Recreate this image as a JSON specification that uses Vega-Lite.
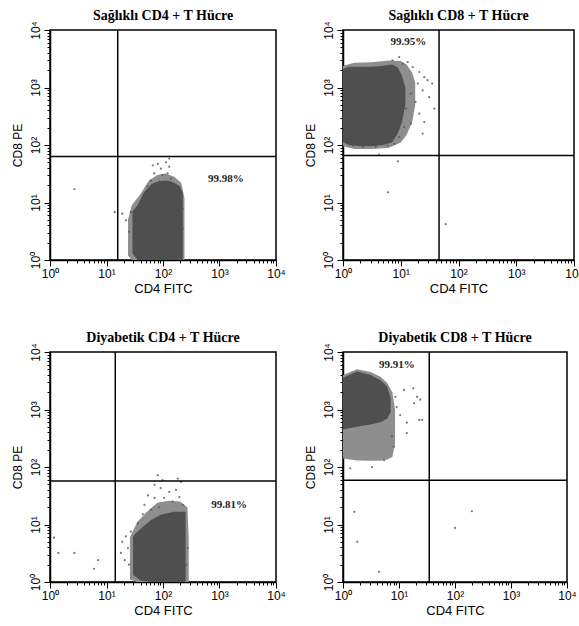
{
  "$schema": "https://vega.github.io/schema/vega-lite/v6.json",
  "background": "white",
  "padding": {"left": 10, "top": 7, "right": 0, "bottom": 0},
  "config": {
    "view": {"stroke": "black", "strokeWidth": 1.5},
    "axis": {"grid": false, "labelFont": "Liberation Sans", "labelFontSize": 12, "labelColor": "black", "titleFont": "Liberation Sans", "titleFontWeight": "normal", "titleColor": "black", "domainColor": "black", "domainWidth": 1.5, "tickColor": "black", "tickWidth": 1, "labelFlush": false, "labelOverlap": false},
    "title": {"font": "Liberation Serif", "fontSize": 14, "fontWeight": "bold", "color": "black", "anchor": "middle", "offset": -2}
  },
  "datasets": {
    "p1": [
      {"kind": "fringe", "x": 24, "ylo": 1.2, "yhi": 5},
      {"kind": "fringe", "x": 28, "ylo": 1, "yhi": 9},
      {"kind": "fringe", "x": 40, "ylo": 1, "yhi": 14},
      {"kind": "fringe", "x": 56, "ylo": 1, "yhi": 24},
      {"kind": "fringe", "x": 79, "ylo": 1, "yhi": 30},
      {"kind": "fringe", "x": 112, "ylo": 1, "yhi": 32},
      {"kind": "fringe", "x": 158, "ylo": 1, "yhi": 28},
      {"kind": "fringe", "x": 209, "ylo": 1, "yhi": 22},
      {"kind": "fringe", "x": 240, "ylo": 1, "yhi": 12},
      {"kind": "dense", "x": 28.8, "ylo": 1.3, "yhi": 7},
      {"kind": "dense", "x": 35.5, "ylo": 1, "yhi": 9},
      {"kind": "dense", "x": 45.7, "ylo": 1, "yhi": 15},
      {"kind": "dense", "x": 63, "ylo": 1, "yhi": 21},
      {"kind": "dense", "x": 79, "ylo": 1, "yhi": 23},
      {"kind": "dense", "x": 100, "ylo": 1, "yhi": 24},
      {"kind": "dense", "x": 126, "ylo": 1, "yhi": 24},
      {"kind": "dense", "x": 158, "ylo": 1, "yhi": 22},
      {"kind": "dense", "x": 200, "ylo": 1, "yhi": 19},
      {"kind": "dense", "x": 224, "ylo": 1, "yhi": 15},
      {"kind": "dot", "x": 66, "y": 44}, {"kind": "dot", "x": 81, "y": 47}, {"kind": "dot", "x": 92, "y": 39},
      {"kind": "dot", "x": 113, "y": 50}, {"kind": "dot", "x": 129, "y": 42}, {"kind": "dot", "x": 70, "y": 32},
      {"kind": "dot", "x": 98, "y": 30}, {"kind": "dot", "x": 121, "y": 32}, {"kind": "dot", "x": 138, "y": 26},
      {"kind": "dot", "x": 61, "y": 24}, {"kind": "dot", "x": 86, "y": 23}, {"kind": "dot", "x": 158, "y": 20},
      {"kind": "dot", "x": 129, "y": 58}, {"kind": "dot", "x": 53, "y": 19}, {"kind": "dot", "x": 194, "y": 13},
      {"kind": "dot", "x": 223, "y": 7.8}, {"kind": "dot", "x": 223, "y": 3.5}, {"kind": "dot", "x": 27, "y": 6.8},
      {"kind": "dot", "x": 22, "y": 4.9}, {"kind": "dot", "x": 19, "y": 6.4}, {"kind": "dot", "x": 25, "y": 3.1},
      {"kind": "dot", "x": 31, "y": 2.1}, {"kind": "dot", "x": 14, "y": 6.8}, {"kind": "dot", "x": 2.7, "y": 17},
      {"kind": "vline", "x": 15.8},
      {"kind": "hline", "y": 63},
      {"kind": "label", "x": 1300, "y": 25.6, "text": "99.98%"}
    ],
    "p2": [
      {"kind": "fringe", "x": 1, "ylo": 95, "yhi": 2400},
      {"kind": "fringe", "x": 1.58, "ylo": 85, "yhi": 2700},
      {"kind": "fringe", "x": 3.16, "ylo": 85, "yhi": 2750},
      {"kind": "fringe", "x": 6.3, "ylo": 90, "yhi": 2950},
      {"kind": "fringe", "x": 10, "ylo": 110, "yhi": 2900},
      {"kind": "fringe", "x": 12.6, "ylo": 150, "yhi": 2500},
      {"kind": "fringe", "x": 15.8, "ylo": 250, "yhi": 1800},
      {"kind": "fringe", "x": 17.8, "ylo": 500, "yhi": 1200},
      {"kind": "dense", "x": 1, "ylo": 112, "yhi": 2090},
      {"kind": "dense", "x": 1.26, "ylo": 100, "yhi": 2290},
      {"kind": "dense", "x": 2, "ylo": 95, "yhi": 2290},
      {"kind": "dense", "x": 3.16, "ylo": 95, "yhi": 2290},
      {"kind": "dense", "x": 5, "ylo": 100, "yhi": 2400},
      {"kind": "dense", "x": 7.1, "ylo": 112, "yhi": 2510},
      {"kind": "dense", "x": 8.9, "ylo": 158, "yhi": 2240},
      {"kind": "dense", "x": 10.5, "ylo": 251, "yhi": 1585},
      {"kind": "dense", "x": 12, "ylo": 500, "yhi": 1000},
      {"kind": "dot", "x": 13.2, "y": 2770}, {"kind": "dot", "x": 16.1, "y": 2270}, {"kind": "dot", "x": 21, "y": 1860},
      {"kind": "dot", "x": 25.5, "y": 1520}, {"kind": "dot", "x": 29, "y": 1340}, {"kind": "dot", "x": 35, "y": 1170},
      {"kind": "dot", "x": 19.7, "y": 1170}, {"kind": "dot", "x": 24, "y": 890}, {"kind": "dot", "x": 31, "y": 680},
      {"kind": "dot", "x": 38, "y": 430}, {"kind": "dot", "x": 15, "y": 780}, {"kind": "dot", "x": 18, "y": 560},
      {"kind": "dot", "x": 12.3, "y": 430}, {"kind": "dot", "x": 21, "y": 350}, {"kind": "dot", "x": 25.5, "y": 250},
      {"kind": "dot", "x": 15, "y": 235}, {"kind": "dot", "x": 11.5, "y": 205}, {"kind": "dot", "x": 24, "y": 158},
      {"kind": "dot", "x": 9.4, "y": 138}, {"kind": "dot", "x": 7.8, "y": 105}, {"kind": "dot", "x": 5.9, "y": 98},
      {"kind": "dot", "x": 3.7, "y": 93}, {"kind": "dot", "x": 2.2, "y": 93}, {"kind": "dot", "x": 1.5, "y": 98},
      {"kind": "dot", "x": 9.4, "y": 3390}, {"kind": "dot", "x": 7.2, "y": 2950}, {"kind": "dot", "x": 10.8, "y": 2570},
      {"kind": "dot", "x": 4.2, "y": 68}, {"kind": "dot", "x": 8.9, "y": 52}, {"kind": "dot", "x": 6, "y": 15},
      {"kind": "dot", "x": 60, "y": 4.2},
      {"kind": "vline", "x": 46},
      {"kind": "hline", "y": 66},
      {"kind": "label", "x": 13.6, "y": 6170, "text": "99.95%"}
    ],
    "p3": [
      {"kind": "fringe", "x": 26, "ylo": 1.1, "yhi": 6},
      {"kind": "fringe", "x": 35, "ylo": 1, "yhi": 11},
      {"kind": "fringe", "x": 50, "ylo": 1, "yhi": 16},
      {"kind": "fringe", "x": 79, "ylo": 1, "yhi": 24},
      {"kind": "fringe", "x": 126, "ylo": 1, "yhi": 26},
      {"kind": "fringe", "x": 200, "ylo": 1, "yhi": 25},
      {"kind": "fringe", "x": 270, "ylo": 1, "yhi": 20},
      {"kind": "fringe", "x": 285, "ylo": 1, "yhi": 6},
      {"kind": "dense", "x": 29.5, "ylo": 1.32, "yhi": 6.3},
      {"kind": "dense", "x": 40.7, "ylo": 1.05, "yhi": 8.5},
      {"kind": "dense", "x": 61.7, "ylo": 1, "yhi": 12},
      {"kind": "dense", "x": 91, "ylo": 1, "yhi": 14.8},
      {"kind": "dense", "x": 158, "ylo": 1, "yhi": 16.6},
      {"kind": "dense", "x": 251, "ylo": 1, "yhi": 16.6},
      {"kind": "dot", "x": 81, "y": 72}, {"kind": "dot", "x": 98, "y": 59}, {"kind": "dot", "x": 182, "y": 63},
      {"kind": "dot", "x": 209, "y": 55}, {"kind": "dot", "x": 71, "y": 49}, {"kind": "dot", "x": 91, "y": 43},
      {"kind": "dot", "x": 129, "y": 37}, {"kind": "dot", "x": 170, "y": 40}, {"kind": "dot", "x": 54, "y": 32},
      {"kind": "dot", "x": 71, "y": 29}, {"kind": "dot", "x": 105, "y": 29}, {"kind": "dot", "x": 148, "y": 25},
      {"kind": "dot", "x": 195, "y": 30}, {"kind": "dot", "x": 47, "y": 22}, {"kind": "dot", "x": 61, "y": 18},
      {"kind": "dot", "x": 86, "y": 20}, {"kind": "dot", "x": 44, "y": 15}, {"kind": "dot", "x": 36, "y": 10.5},
      {"kind": "dot", "x": 27, "y": 7.5}, {"kind": "dot", "x": 22, "y": 6.2}, {"kind": "dot", "x": 19, "y": 5},
      {"kind": "dot", "x": 24, "y": 3.9}, {"kind": "dot", "x": 18, "y": 3.2}, {"kind": "dot", "x": 21, "y": 2.4},
      {"kind": "dot", "x": 25, "y": 2}, {"kind": "dot", "x": 275, "y": 3.9}, {"kind": "dot", "x": 257, "y": 2},
      {"kind": "dot", "x": 224, "y": 22}, {"kind": "dot", "x": 1.4, "y": 3.2}, {"kind": "dot", "x": 2.7, "y": 3.2},
      {"kind": "dot", "x": 6, "y": 1.7}, {"kind": "dot", "x": 7.1, "y": 2.4}, {"kind": "dot", "x": 1.17, "y": 5.9},
      {"kind": "vline", "x": 14.3},
      {"kind": "hline", "y": 57},
      {"kind": "label", "x": 1480, "y": 21.9, "text": "99.81%"}
    ],
    "p4": [
      {"kind": "fringe", "x": 1, "ylo": 140, "yhi": 4000},
      {"kind": "fringe", "x": 1.78, "ylo": 130, "yhi": 5000},
      {"kind": "fringe", "x": 3.09, "ylo": 128, "yhi": 4500},
      {"kind": "fringe", "x": 4.68, "ylo": 128, "yhi": 3700},
      {"kind": "fringe", "x": 6.17, "ylo": 135, "yhi": 2900},
      {"kind": "fringe", "x": 7.6, "ylo": 150, "yhi": 2000},
      {"kind": "fringe", "x": 8.5, "ylo": 250, "yhi": 1000},
      {"kind": "dense", "x": 1, "ylo": 450, "yhi": 3550},
      {"kind": "dense", "x": 1.78, "ylo": 500, "yhi": 4570},
      {"kind": "dense", "x": 3.09, "ylo": 550, "yhi": 3980},
      {"kind": "dense", "x": 4.68, "ylo": 600, "yhi": 3240},
      {"kind": "dense", "x": 6.17, "ylo": 700, "yhi": 2510},
      {"kind": "dense", "x": 7.08, "ylo": 900, "yhi": 1585},
      {"kind": "dot", "x": 12.3, "y": 2190}, {"kind": "dot", "x": 21, "y": 1660}, {"kind": "dot", "x": 9.1, "y": 1100},
      {"kind": "dot", "x": 23, "y": 660}, {"kind": "dot", "x": 13.8, "y": 590}, {"kind": "dot", "x": 18.6, "y": 1290},
      {"kind": "dot", "x": 6.9, "y": 980}, {"kind": "dot", "x": 8.6, "y": 1660}, {"kind": "dot", "x": 10.5, "y": 800},
      {"kind": "dot", "x": 7.5, "y": 340}, {"kind": "dot", "x": 8.1, "y": 225}, {"kind": "dot", "x": 5.4, "y": 132},
      {"kind": "dot", "x": 3.3, "y": 100}, {"kind": "dot", "x": 1.35, "y": 95}, {"kind": "dot", "x": 18, "y": 2340},
      {"kind": "dot", "x": 24, "y": 1480}, {"kind": "dot", "x": 26, "y": 660}, {"kind": "dot", "x": 13.8, "y": 390},
      {"kind": "dot", "x": 1.6, "y": 16.6}, {"kind": "dot", "x": 1.8, "y": 5}, {"kind": "dot", "x": 4.4, "y": 1.5},
      {"kind": "dot", "x": 200, "y": 17}, {"kind": "dot", "x": 100, "y": 8.7},
      {"kind": "vline", "x": 34.7},
      {"kind": "hline", "y": 59},
      {"kind": "label", "x": 9.2, "y": 5900, "text": "99.91%"}
    ]
  },
  "vconcat": [
    {
      "hconcat": [
        {
          "width": 226, "height": 230,
          "title": "Sağlıklı CD4 + T Hücre",
          "data": {"name": "p1"},
          "resolve": {"axis": {"x": "independent", "y": "independent"}},
          "layer": [
            {"transform": [{"filter": "datum.kind === 'fringe'"}], "mark": {"type": "area", "color": "#8e8e8e"},
             "encoding": {
               "x": {"field": "x", "type": "quantitative", "scale": {"type": "log", "domain": [1, 10000], "nice": false},
                 "axis": {"orient": "bottom", "title": "CD4 FITC", "titleFontSize": 13, "values": [1, 10, 100, 1000, 10000],
                   "labelExpr": "datum.value === 1 ? '10⁰' : datum.value === 10 ? '10¹' : datum.value === 100 ? '10²' : datum.value === 1000 ? '10³' : '10⁴'",
                   "tickSize": 6, "labelPadding": 2, "titlePadding": 3}},
               "y": {"field": "yhi", "type": "quantitative", "scale": {"type": "log", "domain": [1, 10000], "nice": false},
                 "axis": {"orient": "left", "title": "CD8 PE", "titleFontSize": 12, "labelAngle": -90, "values": [1, 10, 100, 1000, 10000],
                   "labelExpr": "datum.value === 1 ? '10⁰' : datum.value === 10 ? '10¹' : datum.value === 100 ? '10²' : datum.value === 1000 ? '10³' : '10⁴'",
                   "tickSize": 6, "labelPadding": 2, "titlePadding": 5}},
               "y2": {"field": "ylo"}
             }},
            {"transform": [{"filter": "datum.kind === 'dense'"}], "mark": {"type": "area", "color": "#4f4f4f"},
             "encoding": {
               "x": {"field": "x", "type": "quantitative", "axis": {"orient": "bottom", "title": null, "labels": false, "domain": false, "tickSize": 3, "values": [2,3,4,5,6,7,8,9,20,30,40,50,60,70,80,90,200,300,400,500,600,700,800,900,2000,3000,4000,5000,6000,7000,8000,9000]}},
               "y": {"field": "yhi", "type": "quantitative", "axis": {"orient": "left", "title": null, "labels": false, "domain": false, "tickSize": 3, "values": [2,3,4,5,6,7,8,9,20,30,40,50,60,70,80,90,200,300,400,500,600,700,800,900,2000,3000,4000,5000,6000,7000,8000,9000]}},
               "y2": {"field": "ylo"}
             }},
            {"transform": [{"filter": "datum.kind === 'dot'"}], "mark": {"type": "point", "filled": true, "size": 5, "color": "#555", "opacity": 0.8},
             "encoding": {"x": {"field": "x", "type": "quantitative", "axis": null}, "y": {"field": "y", "type": "quantitative", "axis": null}}},
            {"transform": [{"filter": "datum.kind === 'vline'"}], "mark": {"type": "rule", "color": "black", "strokeWidth": 1.5},
             "encoding": {"x": {"field": "x", "type": "quantitative", "axis": null}}},
            {"transform": [{"filter": "datum.kind === 'hline'"}], "mark": {"type": "rule", "color": "black", "strokeWidth": 1.5},
             "encoding": {"y": {"field": "y", "type": "quantitative", "axis": null}}},
            {"transform": [{"filter": "datum.kind === 'label'"}], "mark": {"type": "text", "font": "Liberation Serif", "fontWeight": "bold", "fontSize": 11, "color": "#222"},
             "encoding": {"x": {"field": "x", "type": "quantitative", "axis": null}, "y": {"field": "y", "type": "quantitative", "axis": null}, "text": {"field": "text"}}}
          ]
        },
        {
          "width": 231, "height": 230,
          "title": "Sağlıklı CD8 + T Hücre",
          "data": {"name": "p2"},
          "resolve": {"axis": {"x": "independent", "y": "independent"}},
          "layer": [
            {"transform": [{"filter": "datum.kind === 'fringe'"}], "mark": {"type": "area", "color": "#8e8e8e"},
             "encoding": {
               "x": {"field": "x", "type": "quantitative", "scale": {"type": "log", "domain": [1, 10000], "nice": false},
                 "axis": {"orient": "bottom", "title": "CD4 FITC", "titleFontSize": 13, "values": [1, 10, 100, 1000, 10000],
                   "labelExpr": "datum.value === 1 ? '10⁰' : datum.value === 10 ? '10¹' : datum.value === 100 ? '10²' : datum.value === 1000 ? '10³' : '10⁴'",
                   "tickSize": 6, "labelPadding": 2, "titlePadding": 3}},
               "y": {"field": "yhi", "type": "quantitative", "scale": {"type": "log", "domain": [1, 10000], "nice": false},
                 "axis": {"orient": "left", "title": "CD8 PE", "titleFontSize": 12, "labelAngle": -90, "values": [1, 10, 100, 1000, 10000],
                   "labelExpr": "datum.value === 1 ? '10⁰' : datum.value === 10 ? '10¹' : datum.value === 100 ? '10²' : datum.value === 1000 ? '10³' : '10⁴'",
                   "tickSize": 6, "labelPadding": 2, "titlePadding": 5}},
               "y2": {"field": "ylo"}
             }},
            {"transform": [{"filter": "datum.kind === 'dense'"}], "mark": {"type": "area", "color": "#4f4f4f"},
             "encoding": {
               "x": {"field": "x", "type": "quantitative", "axis": {"orient": "bottom", "title": null, "labels": false, "domain": false, "tickSize": 3, "values": [2,3,4,5,6,7,8,9,20,30,40,50,60,70,80,90,200,300,400,500,600,700,800,900,2000,3000,4000,5000,6000,7000,8000,9000]}},
               "y": {"field": "yhi", "type": "quantitative", "axis": {"orient": "left", "title": null, "labels": false, "domain": false, "tickSize": 3, "values": [2,3,4,5,6,7,8,9,20,30,40,50,60,70,80,90,200,300,400,500,600,700,800,900,2000,3000,4000,5000,6000,7000,8000,9000]}},
               "y2": {"field": "ylo"}
             }},
            {"transform": [{"filter": "datum.kind === 'dot'"}], "mark": {"type": "point", "filled": true, "size": 5, "color": "#555", "opacity": 0.8},
             "encoding": {"x": {"field": "x", "type": "quantitative", "axis": null}, "y": {"field": "y", "type": "quantitative", "axis": null}}},
            {"transform": [{"filter": "datum.kind === 'vline'"}], "mark": {"type": "rule", "color": "black", "strokeWidth": 1.5},
             "encoding": {"x": {"field": "x", "type": "quantitative", "axis": null}}},
            {"transform": [{"filter": "datum.kind === 'hline'"}], "mark": {"type": "rule", "color": "black", "strokeWidth": 1.5},
             "encoding": {"y": {"field": "y", "type": "quantitative", "axis": null}}},
            {"transform": [{"filter": "datum.kind === 'label'"}], "mark": {"type": "text", "font": "Liberation Serif", "fontWeight": "bold", "fontSize": 11, "color": "#222"},
             "encoding": {"x": {"field": "x", "type": "quantitative", "axis": null}, "y": {"field": "y", "type": "quantitative", "axis": null}, "text": {"field": "text"}}}
          ]
        }
      ],
      "spacing": 16
    },
    {
      "hconcat": [
        {
          "width": 226, "height": 230,
          "title": "Diyabetik CD4 + T Hücre",
          "data": {"name": "p3"},
          "resolve": {"axis": {"x": "independent", "y": "independent"}},
          "layer": [
            {"transform": [{"filter": "datum.kind === 'fringe'"}], "mark": {"type": "area", "color": "#8e8e8e"},
             "encoding": {
               "x": {"field": "x", "type": "quantitative", "scale": {"type": "log", "domain": [1, 10000], "nice": false},
                 "axis": {"orient": "bottom", "title": "CD4 FITC", "titleFontSize": 13, "values": [1, 10, 100, 1000, 10000],
                   "labelExpr": "datum.value === 1 ? '10⁰' : datum.value === 10 ? '10¹' : datum.value === 100 ? '10²' : datum.value === 1000 ? '10³' : '10⁴'",
                   "tickSize": 6, "labelPadding": 2, "titlePadding": 3}},
               "y": {"field": "yhi", "type": "quantitative", "scale": {"type": "log", "domain": [1, 10000], "nice": false},
                 "axis": {"orient": "left", "title": "CD8 PE", "titleFontSize": 12, "labelAngle": -90, "values": [1, 10, 100, 1000, 10000],
                   "labelExpr": "datum.value === 1 ? '10⁰' : datum.value === 10 ? '10¹' : datum.value === 100 ? '10²' : datum.value === 1000 ? '10³' : '10⁴'",
                   "tickSize": 6, "labelPadding": 2, "titlePadding": 5}},
               "y2": {"field": "ylo"}
             }},
            {"transform": [{"filter": "datum.kind === 'dense'"}], "mark": {"type": "area", "color": "#4f4f4f"},
             "encoding": {
               "x": {"field": "x", "type": "quantitative", "axis": {"orient": "bottom", "title": null, "labels": false, "domain": false, "tickSize": 3, "values": [2,3,4,5,6,7,8,9,20,30,40,50,60,70,80,90,200,300,400,500,600,700,800,900,2000,3000,4000,5000,6000,7000,8000,9000]}},
               "y": {"field": "yhi", "type": "quantitative", "axis": {"orient": "left", "title": null, "labels": false, "domain": false, "tickSize": 3, "values": [2,3,4,5,6,7,8,9,20,30,40,50,60,70,80,90,200,300,400,500,600,700,800,900,2000,3000,4000,5000,6000,7000,8000,9000]}},
               "y2": {"field": "ylo"}
             }},
            {"transform": [{"filter": "datum.kind === 'dot'"}], "mark": {"type": "point", "filled": true, "size": 5, "color": "#555", "opacity": 0.8},
             "encoding": {"x": {"field": "x", "type": "quantitative", "axis": null}, "y": {"field": "y", "type": "quantitative", "axis": null}}},
            {"transform": [{"filter": "datum.kind === 'vline'"}], "mark": {"type": "rule", "color": "black", "strokeWidth": 1.5},
             "encoding": {"x": {"field": "x", "type": "quantitative", "axis": null}}},
            {"transform": [{"filter": "datum.kind === 'hline'"}], "mark": {"type": "rule", "color": "black", "strokeWidth": 1.5},
             "encoding": {"y": {"field": "y", "type": "quantitative", "axis": null}}},
            {"transform": [{"filter": "datum.kind === 'label'"}], "mark": {"type": "text", "font": "Liberation Serif", "fontWeight": "bold", "fontSize": 11, "color": "#222"},
             "encoding": {"x": {"field": "x", "type": "quantitative", "axis": null}, "y": {"field": "y", "type": "quantitative", "axis": null}, "text": {"field": "text"}}}
          ]
        },
        {
          "width": 224, "height": 230,
          "title": "Diyabetik CD8 + T Hücre",
          "data": {"name": "p4"},
          "resolve": {"axis": {"x": "independent", "y": "independent"}},
          "layer": [
            {"transform": [{"filter": "datum.kind === 'fringe'"}], "mark": {"type": "area", "color": "#8e8e8e"},
             "encoding": {
               "x": {"field": "x", "type": "quantitative", "scale": {"type": "log", "domain": [1, 10000], "nice": false},
                 "axis": {"orient": "bottom", "title": "CD4 FITC", "titleFontSize": 13, "values": [1, 10, 100, 1000, 10000],
                   "labelExpr": "datum.value === 1 ? '10⁰' : datum.value === 10 ? '10¹' : datum.value === 100 ? '10²' : datum.value === 1000 ? '10³' : '10⁴'",
                   "tickSize": 6, "labelPadding": 2, "titlePadding": 3}},
               "y": {"field": "yhi", "type": "quantitative", "scale": {"type": "log", "domain": [1, 10000], "nice": false},
                 "axis": {"orient": "left", "title": "CD8 PE", "titleFontSize": 12, "labelAngle": -90, "values": [1, 10, 100, 1000, 10000],
                   "labelExpr": "datum.value === 1 ? '10⁰' : datum.value === 10 ? '10¹' : datum.value === 100 ? '10²' : datum.value === 1000 ? '10³' : '10⁴'",
                   "tickSize": 6, "labelPadding": 2, "titlePadding": 5}},
               "y2": {"field": "ylo"}
             }},
            {"transform": [{"filter": "datum.kind === 'dense'"}], "mark": {"type": "area", "color": "#4f4f4f"},
             "encoding": {
               "x": {"field": "x", "type": "quantitative", "axis": {"orient": "bottom", "title": null, "labels": false, "domain": false, "tickSize": 3, "values": [2,3,4,5,6,7,8,9,20,30,40,50,60,70,80,90,200,300,400,500,600,700,800,900,2000,3000,4000,5000,6000,7000,8000,9000]}},
               "y": {"field": "yhi", "type": "quantitative", "axis": {"orient": "left", "title": null, "labels": false, "domain": false, "tickSize": 3, "values": [2,3,4,5,6,7,8,9,20,30,40,50,60,70,80,90,200,300,400,500,600,700,800,900,2000,3000,4000,5000,6000,7000,8000,9000]}},
               "y2": {"field": "ylo"}
             }},
            {"transform": [{"filter": "datum.kind === 'dot'"}], "mark": {"type": "point", "filled": true, "size": 5, "color": "#555", "opacity": 0.8},
             "encoding": {"x": {"field": "x", "type": "quantitative", "axis": null}, "y": {"field": "y", "type": "quantitative", "axis": null}}},
            {"transform": [{"filter": "datum.kind === 'vline'"}], "mark": {"type": "rule", "color": "black", "strokeWidth": 1.5},
             "encoding": {"x": {"field": "x", "type": "quantitative", "axis": null}}},
            {"transform": [{"filter": "datum.kind === 'hline'"}], "mark": {"type": "rule", "color": "black", "strokeWidth": 1.5},
             "encoding": {"y": {"field": "y", "type": "quantitative", "axis": null}}},
            {"transform": [{"filter": "datum.kind === 'label'"}], "mark": {"type": "text", "font": "Liberation Serif", "fontWeight": "bold", "fontSize": 11, "color": "#222"},
             "encoding": {"x": {"field": "x", "type": "quantitative", "axis": null}, "y": {"field": "y", "type": "quantitative", "axis": null}, "text": {"field": "text"}}}
          ]
        }
      ],
      "spacing": 16
    }
  ],
  "spacing": 33
}
